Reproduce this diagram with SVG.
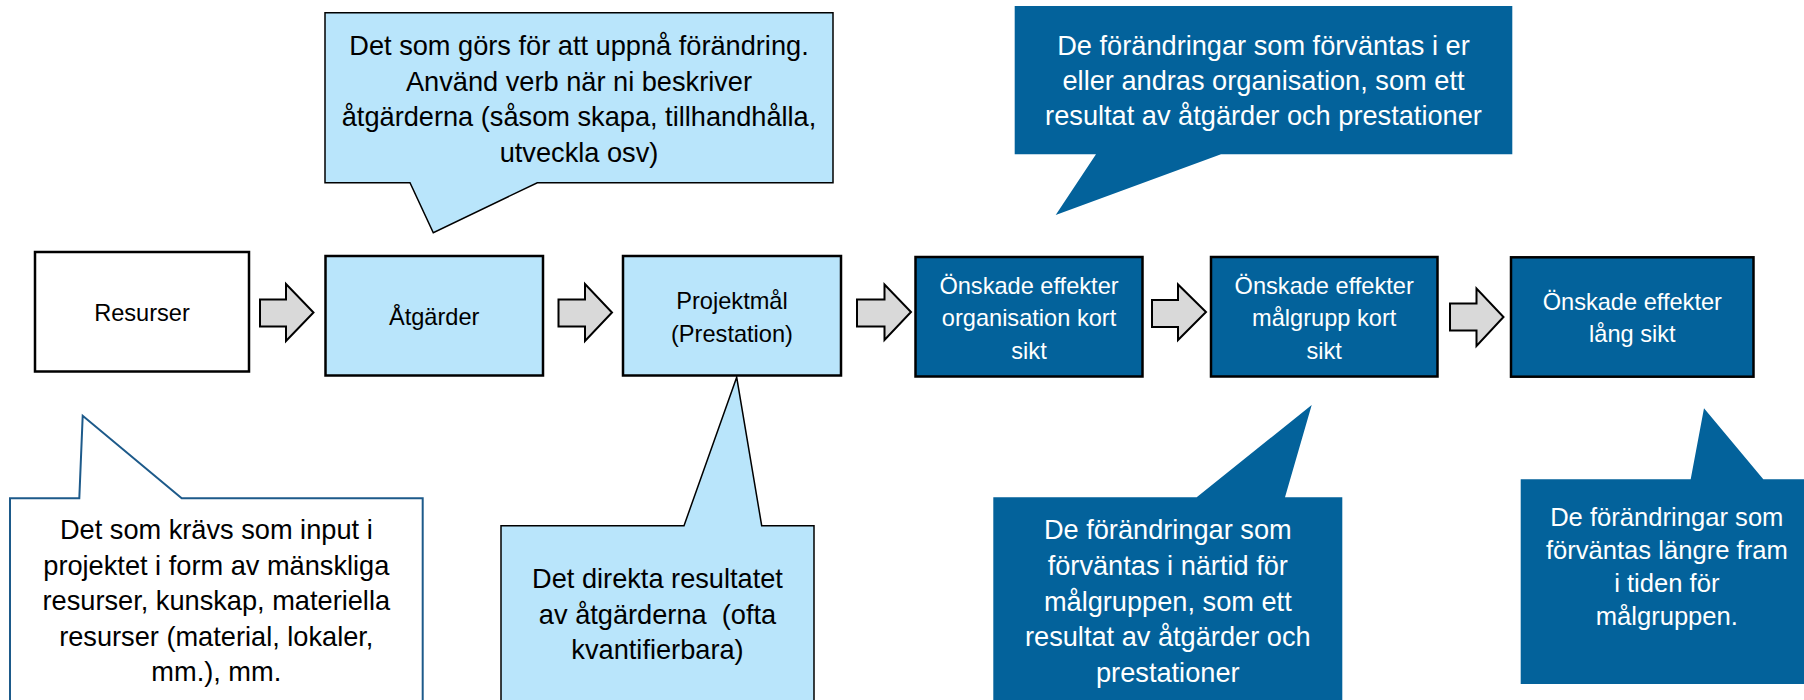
<svg xmlns="http://www.w3.org/2000/svg" width="1804" height="700" viewBox="0 0 1804 700">
<style>
  .t { font-family: 'Liberation Sans', Arial, sans-serif; text-anchor: middle; white-space: pre; }
  .cb { font-size: 27.2px; }
  .cs { font-size: 25.6px; }
  .bx { font-size: 23.6px; }
  .dk { fill: #000000; }
  .wh { fill: #FFFFFF; }
  .box { stroke: #000000; stroke-width: 2.5; }
  .white { fill: #FFFFFF; }
  .light { fill: #B9E5FB; }
  .dark { fill: #03629B; }
  .arrow { fill: #D9D9D9; stroke: #000000; stroke-width: 2; stroke-linejoin: miter; }
  .callL { fill: #B9E5FB; stroke: #000000; stroke-width: 1.5; }
  .callW { fill: #FFFFFF; stroke: #1D5A8A; stroke-width: 2; }
  .callD { fill: #03629B; stroke: none; }
</style>
<rect width="1804" height="700" fill="#FFFFFF"/>

<g id="callout-atgarder">
  <path class="callL" d="M325,12.7 H833 V182.7 H537.3 L433.3,232.7 L410,182.7 H325 Z"/>
  <text class="t cb dk" x="579" y="55">Det som görs för att uppnå förändring.</text>
  <text class="t cb dk" x="579" y="90.5">Använd verb när ni beskriver</text>
  <text class="t cb dk" x="579" y="126">åtgärderna (såsom skapa, tillhandhålla,</text>
  <text class="t cb dk" x="579" y="161.5">utveckla osv)</text>
</g>

<g id="callout-organisation">
  <path class="callD" d="M1014.7,6 H1512.3 V154.3 H1221 L1055.7,215 L1096,154.3 H1014.7 Z"/>
  <text class="t cb wh" x="1263.5" y="55">De förändringar som förväntas i er</text>
  <text class="t cb wh" x="1263.5" y="90">eller andras organisation, som ett</text>
  <text class="t cb wh" x="1263.5" y="125">resultat av åtgärder och prestationer</text>
</g>

<g id="callout-resurser">
  <path class="callW" d="M10,498.3 H79.3 L82.7,415.7 L181.7,498.3 H422.7 V720 H10 Z"/>
  <text class="t cb dk" x="216.3" y="539.3">Det som krävs som input i</text>
  <text class="t cb dk" x="216.3" y="574.8">projektet i form av mänskliga</text>
  <text class="t cb dk" x="216.3" y="610.3">resurser, kunskap, materiella</text>
  <text class="t cb dk" x="216.3" y="645.8">resurser (material, lokaler,</text>
  <text class="t cb dk" x="216.3" y="681.3">mm.), mm.</text>
</g>

<g id="callout-prestation">
  <path class="callL" d="M501,525.7 H684 L736.7,377.3 L761.7,525.7 H814 V720 H501 Z"/>
  <text class="t cb dk" x="657.5" y="588.3">Det direkta resultatet</text>
  <text class="t cb dk" x="657.5" y="623.8">av åtgärderna  (ofta</text>
  <text class="t cb dk" x="657.5" y="659.3">kvantifierbara)</text>
</g>

<g id="callout-malgrupp-kort">
  <path class="callD" d="M993.3,497.3 H1196.7 L1311.7,405 L1285,497.3 H1342.3 V720 H993.3 Z"/>
  <text class="t cb wh" x="1167.8" y="539.3">De förändringar som</text>
  <text class="t cb wh" x="1167.8" y="575">förväntas i närtid för</text>
  <text class="t cb wh" x="1167.8" y="610.5">målgruppen, som ett</text>
  <text class="t cb wh" x="1167.8" y="646">resultat av åtgärder och</text>
  <text class="t cb wh" x="1167.8" y="681.5">prestationer</text>
</g>

<g id="callout-lang-sikt">
  <path class="callD" d="M1520.7,479.3 H1690.7 L1704,408.3 L1763.3,479.3 H1815 V684 H1520.7 Z"/>
  <text class="t cs wh" x="1666.8" y="526">De förändringar som</text>
  <text class="t cs wh" x="1666.8" y="558.8">förväntas längre fram</text>
  <text class="t cs wh" x="1666.8" y="591.8">i tiden för</text>
  <text class="t cs wh" x="1666.8" y="624.6">målgruppen.</text>
</g>

<g id="connectors">
  <path class="arrow" d="M260,299.5 H286 V284 L313.5,312.5 L286,341 V326.5 H260 Z"/>
  <path class="arrow" d="M558.5,299.5 H585 V284 L612,312.5 L585,341 V326.5 H558.5 Z"/>
  <path class="arrow" d="M857,299.5 H884.5 V284.5 L911,312 L884.5,340 V326.5 H857 Z"/>
  <path class="arrow" d="M1152,300 H1178 V284.5 L1206,312 L1178,340 V327 H1152 Z"/>
  <path class="arrow" d="M1450,303.5 H1476.5 V288.5 L1503.5,317 L1476.5,346 V330.5 H1450 Z"/>
</g>

<g id="node-resurser">
  <rect class="box white" x="35" y="252" width="214" height="119.5"/>
  <text class="t bx dk" x="142" y="320.5">Resurser</text>
</g>

<g id="node-atgarder">
  <rect class="box light" x="325.5" y="256" width="217.5" height="119.5"/>
  <text class="t bx dk" x="434.2" y="324.5">Åtgärder</text>
</g>

<g id="node-projektmal">
  <rect class="box light" x="623" y="256" width="218" height="119.5"/>
  <text class="t bx dk" x="732" y="309">Projektmål</text>
  <text class="t bx dk" x="732" y="341.5">(Prestation)</text>
</g>

<g id="node-effekter-organisation">
  <rect class="box dark" x="915.5" y="257" width="227" height="119.5"/>
  <text class="t bx wh" x="1029" y="293.5">Önskade effekter</text>
  <text class="t bx wh" x="1029" y="326">organisation kort</text>
  <text class="t bx wh" x="1029" y="358.5">sikt</text>
</g>

<g id="node-effekter-malgrupp">
  <rect class="box dark" x="1211" y="257" width="226.5" height="119.5"/>
  <text class="t bx wh" x="1324.2" y="293.5">Önskade effekter</text>
  <text class="t bx wh" x="1324.2" y="326">målgrupp kort</text>
  <text class="t bx wh" x="1324.2" y="358.5">sikt</text>
</g>

<g id="node-effekter-lang">
  <rect class="box dark" x="1511" y="257.3" width="242.5" height="119.4"/>
  <text class="t bx wh" x="1632.3" y="309.8">Önskade effekter</text>
  <text class="t bx wh" x="1632.3" y="342.2">lång sikt</text>
</g>
</svg>
